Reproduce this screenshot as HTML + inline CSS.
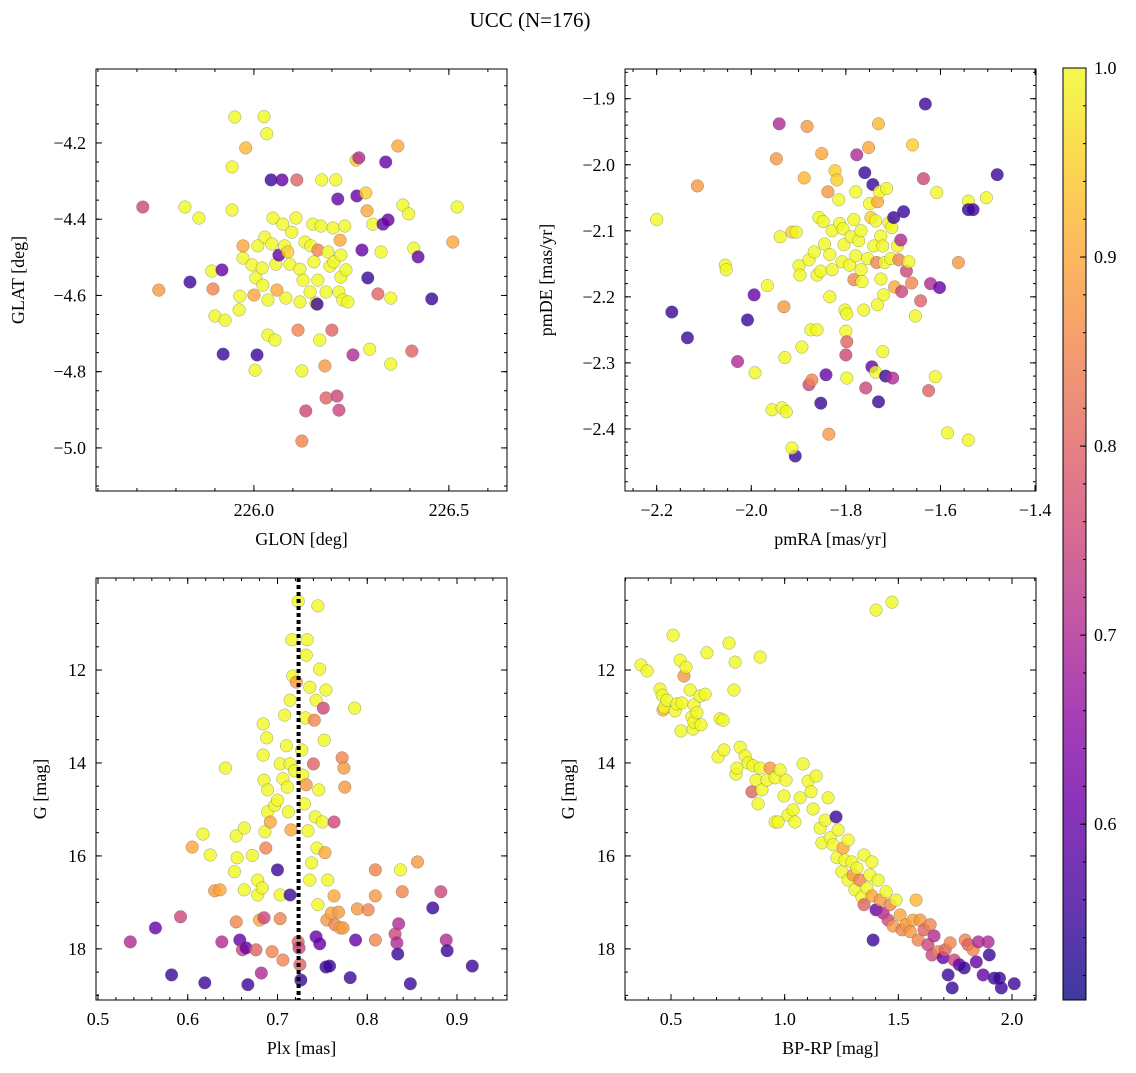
<!DOCTYPE html>
<html><head><meta charset="utf-8">
<style>
html,body{margin:0;padding:0;background:#fff;}
svg text{font-family:"Liberation Serif","DejaVu Serif",serif;fill:#000;}
</style></head>
<body>
<svg id="fig" width="1136" height="1068" viewBox="0 0 1136 1068" xmlns="http://www.w3.org/2000/svg">
<defs>
<linearGradient id="plasma" x1="0" y1="1" x2="0" y2="0">
<stop offset="0" stop-color="#0d0887"/><stop offset="0.1" stop-color="#41049d"/><stop offset="0.2" stop-color="#6a00a8"/><stop offset="0.3" stop-color="#8f0da4"/><stop offset="0.4" stop-color="#b12a90"/><stop offset="0.5" stop-color="#cc4778"/><stop offset="0.6" stop-color="#e16462"/><stop offset="0.7" stop-color="#f2844b"/><stop offset="0.8" stop-color="#fca636"/><stop offset="0.9" stop-color="#fcce25"/><stop offset="1" stop-color="#f0f921"/>
</linearGradient>
</defs>
<text x="530" y="27" font-size="21" text-anchor="middle">UCC (N=176)</text>
</svg>
<script>
// ---- Panel 1: GLON / GLAT ----
const glon=[225.715,225.756,225.823,225.836,225.859,225.892,225.895,225.9,225.918,225.921,225.926,225.944,225.944,225.951,225.979,226.026,226.033,226.008,225.962,225.964,225.972,225.972,225.995,226.0,226.005,226.01,226.021,226.023,226.028,226.036,226.036,226.044,226.046,226.049,226.054,226.056,226.059,226.064,226.072,226.074,226.079,226.082,226.087,226.092,226.097,226.108,226.11,226.113,226.118,226.118,226.123,226.126,226.131,226.133,226.144,226.146,226.151,226.154,226.159,226.162,226.164,226.164,226.169,226.172,226.174,226.182,226.185,226.19,226.195,226.2,226.203,226.205,226.21,226.213,226.215,226.218,226.221,226.223,226.223,226.228,226.233,226.236,226.241,226.254,226.262,226.264,226.269,226.277,226.287,226.29,226.292,226.297,226.305,226.318,226.326,226.331,226.338,226.351,226.344,226.351,226.369,226.382,226.397,226.41,226.421,226.405,226.456,226.51,226.521,226.185,226.218,226.123,226.003];
const glat=[-4.368,-4.586,-4.368,-4.565,-4.397,-4.536,-4.583,-4.654,-4.533,-4.754,-4.665,-4.263,-4.376,-4.132,-4.213,-4.131,-4.176,-4.756,-4.638,-4.602,-4.502,-4.47,-4.52,-4.599,-4.554,-4.47,-4.528,-4.573,-4.447,-4.612,-4.704,-4.297,-4.465,-4.397,-4.717,-4.518,-4.586,-4.494,-4.297,-4.413,-4.47,-4.607,-4.486,-4.518,-4.434,-4.397,-4.297,-4.691,-4.531,-4.617,-4.798,-4.56,-4.46,-4.903,-4.591,-4.47,-4.413,-4.512,-4.62,-4.623,-4.481,-4.56,-4.717,-4.418,-4.297,-4.785,-4.591,-4.486,-4.523,-4.691,-4.423,-4.512,-4.297,-4.864,-4.347,-4.591,-4.455,-4.494,-4.552,-4.612,-4.418,-4.533,-4.617,-4.756,-4.245,-4.339,-4.239,-4.481,-4.331,-4.378,-4.554,-4.741,-4.413,-4.596,-4.486,-4.413,-4.25,-4.607,-4.402,-4.78,-4.208,-4.363,-4.386,-4.476,-4.499,-4.746,-4.609,-4.46,-4.368,-4.869,-4.901,-4.982,-4.796];
const prob1=[.75,.88,1,.55,1,1,.85,1,.6,.55,1,1,1,1,.92,1,1,.55,1,1,1,.9,1,.9,1,1,1,1,1,1,1,.55,1,1,1,1,.9,.6,.6,1,1,1,.95,1,1,1,.8,.85,1,1,1,1,1,.75,1,1,1,1,1,.55,.85,1,1,1,1,.88,1,1,1,.8,1,1,1,.75,.6,1,.9,1,1,1,1,1,1,.7,.95,.6,.7,.6,.95,.9,.55,1,1,.8,1,.6,.6,1,.6,1,.9,1,1,1,.6,.8,.55,.9,1,.8,.75,.85,1];
// ---- Panel 2: pmRA / pmDE ----
const pmra=[-2.2,-2.114,-2.168,-2.135,-2.055,-2.053,-2.029,-1.994,-2.008,-1.992,-1.956,-1.947,-1.941,-1.939,-1.935,-1.931,-1.929,-1.914,-1.907,-1.905,-1.899,-1.897,-1.893,-1.888,-1.882,-1.878,-1.878,-1.874,-1.872,-1.867,-1.861,-1.861,-1.857,-1.853,-1.853,-1.851,-1.848,-1.845,-1.842,-1.838,-1.836,-1.834,-1.834,-1.829,-1.829,-1.823,-1.819,-1.815,-1.813,-1.808,-1.806,-1.804,-1.802,-1.8,-1.8,-1.798,-1.798,-1.798,-1.792,-1.789,-1.783,-1.783,-1.779,-1.779,-1.777,-1.773,-1.768,-1.768,-1.766,-1.762,-1.76,-1.758,-1.754,-1.752,-1.75,-1.747,-1.745,-1.743,-1.741,-1.737,-1.737,-1.735,-1.733,-1.733,-1.731,-1.731,-1.729,-1.726,-1.726,-1.722,-1.722,-1.72,-1.718,-1.716,-1.714,-1.709,-1.705,-1.703,-1.701,-1.699,-1.697,-1.691,-1.688,-1.684,-1.682,-1.678,-1.672,-1.667,-1.661,-1.659,-1.653,-1.642,-1.636,-1.632,-1.625,-1.621,-1.611,-1.608,-1.602,-1.585,-1.562,-1.541,-1.541,-1.541,-1.531,-1.503,-1.48,-1.966,-1.926,-1.914];
const pmde=[-2.083,-2.032,-2.223,-2.262,-2.152,-2.159,-2.298,-2.197,-2.235,-2.315,-2.371,-1.991,-1.938,-2.109,-2.368,-2.215,-2.292,-2.102,-2.441,-2.102,-2.153,-2.167,-2.276,-2.02,-1.942,-2.144,-2.333,-2.25,-2.326,-2.132,-2.25,-2.167,-2.08,-2.361,-2.161,-1.983,-2.086,-2.12,-2.318,-2.041,-2.408,-2.136,-2.2,-2.1,-2.159,-2.009,-2.023,-2.053,-2.089,-2.147,-2.097,-2.121,-2.22,-2.252,-2.288,-2.323,-2.226,-2.268,-2.152,-2.109,-2.174,-2.083,-2.041,-2.138,-1.985,-2.115,-2.1,-2.159,-2.177,-2.22,-2.012,-2.338,-2.142,-1.974,-2.059,-2.08,-2.306,-2.03,-2.123,-2.085,-2.314,-2.148,-2.056,-2.212,-2.359,-1.938,-2.041,-2.108,-2.173,-2.123,-2.283,-2.197,-2.148,-2.32,-2.036,-2.088,-2.142,-2.095,-2.323,-2.08,-2.185,-2.123,-2.144,-2.114,-2.192,-2.071,-2.161,-2.147,-2.179,-1.97,-2.229,-2.206,-2.021,-1.908,-2.342,-2.18,-2.321,-2.042,-2.186,-2.406,-2.148,-2.417,-2.055,-2.068,-2.068,-2.05,-2.015,-2.183,-2.374,-2.429];
const prob2=[1,.88,.55,.55,1,1,.7,.6,.55,1,1,.88,.7,1,1,.88,1,.95,.55,1,1,1,1,.92,.88,1,.75,1,.85,1,1,1,1,.55,1,.9,1,1,.6,.88,.88,1,1,1,1,.95,.95,1,1,1,1,1,1,1,.75,1,1,.8,1,1,.85,1,1,1,.7,1,1,1,1,1,.55,.75,1,.9,1,.95,.6,.55,1,1,1,.85,.9,1,.55,.92,1,1,1,1,1,1,1,.55,1,1,1,1,.7,.55,.9,1,.85,.7,.75,.55,.75,1,.85,.95,1,.8,.75,.55,.8,.7,1,1,.6,1,.88,1,1,.55,.55,1,.55,1,1,1];
// ---- Panel 3: Plx / G ----
const plx=[0.536,0.564,0.582,0.592,0.605,0.617,0.619,0.625,0.63,0.636,0.638,0.642,0.652,0.654,0.655,0.654,0.658,0.661,0.663,0.663,0.665,0.667,0.672,0.676,0.678,0.678,0.68,0.682,0.683,0.685,0.684,0.684,0.685,0.686,0.688,0.687,0.689,0.689,0.692,0.694,0.697,0.7,0.7,0.703,0.703,0.703,0.706,0.706,0.708,0.71,0.711,0.712,0.714,0.714,0.714,0.715,0.716,0.717,0.719,0.721,0.723,0.745,0.723,0.724,0.725,0.726,0.727,0.728,0.73,0.731,0.732,0.732,0.733,0.734,0.736,0.736,0.738,0.74,0.741,0.742,0.743,0.743,0.744,0.745,0.746,0.747,0.747,0.75,0.751,0.752,0.753,0.754,0.754,0.755,0.756,0.758,0.76,0.763,0.763,0.764,0.768,0.77,0.772,0.773,0.775,0.781,0.786,0.787,0.789,0.774,0.801,0.809,0.809,0.809,0.831,0.833,0.834,0.835,0.837,0.839,0.848,0.856,0.873,0.882,0.888,0.889,0.917];
const gmag3=[17.85,17.55,18.56,17.31,15.81,15.53,18.73,15.98,16.75,16.73,17.85,14.11,16.34,15.57,16.04,17.42,17.81,18.02,15.4,16.73,17.98,18.77,15.99,18.02,16.52,16.84,17.38,18.52,16.69,17.33,13.16,13.83,14.37,15.48,13.46,15.83,14.58,15.05,15.27,18.06,14.91,14.8,16.3,14.02,16.84,17.35,14.34,18.24,12.97,13.63,14.52,15.05,12.65,14.02,16.84,15.44,11.35,12.13,14.17,12.26,10.52,10.62,17.85,17.98,18.34,18.67,13.72,14.26,14.88,13.03,14.47,11.68,11.35,15.46,16.52,12.37,16.15,14.02,13.08,15.16,12.65,17.74,15.83,17.05,14.58,11.98,17.89,15.27,12.82,13.51,15.93,12.43,18.39,17.38,16.52,18.37,17.23,15.27,16.86,17.48,17.21,17.55,13.89,17.55,14.52,18.62,12.82,17.81,17.14,14.11,17.16,16.86,17.81,16.3,17.68,17.87,18.11,17.46,16.3,16.77,18.75,16.13,17.12,16.77,17.81,18.04,18.37];
const prob3=[.7,.6,.55,.75,.9,1,.55,1,.88,.9,.7,1,1,1,1,.85,.6,.75,1,1,.6,.55,1,.8,1,1,.9,.7,1,.75,1,1,1,1,1,.85,1,1,.9,.85,1,1,.55,1,1,.85,1,.85,1,1,1,1,1,1,.55,.9,1,1,1,.88,1,1,.8,.75,.8,.55,1,1,1,1,.88,1,1,1,1,1,1,.8,.85,1,1,.6,1,1,1,1,.6,1,.75,1,.9,1,.55,.88,1,.55,.9,.75,.9,.85,.88,.9,.85,.88,.88,.55,1,.6,.88,.88,.85,.88,.85,.85,.75,.7,.55,.7,1,.85,.55,.88,.55,.75,.7,.55,.55];
const plxMean=[0.7235];
// ---- Panel 4: BP-RP / G ----
const bprp=[0.368,0.395,0.452,0.465,0.461,0.47,0.482,0.509,0.518,0.526,0.54,0.548,0.544,0.557,0.566,0.584,0.592,0.597,0.601,0.601,0.614,0.628,0.632,0.658,0.65,0.716,0.729,0.707,0.733,0.755,0.777,0.782,0.786,0.79,0.804,0.826,0.839,0.856,0.861,0.874,0.883,0.892,0.892,0.9,0.922,0.936,0.958,0.958,0.971,0.98,0.997,1.006,1.015,1.037,1.045,1.068,1.081,1.103,1.116,1.125,1.138,1.156,1.164,1.178,1.191,1.2,1.213,1.226,1.23,1.235,1.252,1.257,1.265,1.279,1.279,1.296,1.301,1.309,1.318,1.331,1.34,1.349,1.349,1.362,1.375,1.384,1.389,1.384,1.402,1.472,1.402,1.411,1.42,1.433,1.446,1.455,1.464,1.477,1.49,1.508,1.516,1.534,1.552,1.565,1.578,1.587,1.596,1.613,1.63,1.64,1.648,1.657,1.675,1.697,1.706,1.719,1.728,1.737,1.746,1.768,1.79,1.794,1.807,1.829,1.843,1.852,1.873,1.895,1.9,1.922,1.945,1.953,2.01];
const gmag4=[11.89,12.02,12.41,12.86,12.54,12.8,12.65,11.25,12.88,12.73,11.79,12.71,13.31,12.13,11.94,12.43,13.01,13.27,12.75,13.12,12.92,12.56,13.18,11.63,12.52,13.05,13.08,13.87,13.72,11.42,12.43,11.83,14.24,14.11,13.66,13.85,14.0,14.62,14.06,14.37,14.88,14.11,11.72,14.58,14.37,14.11,15.27,14.32,15.27,14.15,14.71,14.37,15.12,15.01,15.27,14.75,14.02,14.39,14.62,14.99,14.28,15.4,15.72,15.23,14.75,15.61,15.76,15.16,16.04,15.44,16.34,15.83,16.09,16.52,15.66,16.13,16.41,16.73,16.26,16.52,16.88,15.98,17.05,16.69,16.41,16.86,17.81,16.13,10.71,10.54,17.16,16.52,16.95,17.23,16.77,17.38,17.05,17.51,16.95,17.27,17.59,17.48,17.63,17.38,16.95,17.81,17.38,17.59,17.91,17.48,18.13,17.72,18.06,18.19,18.02,18.56,17.87,18.84,18.24,18.34,18.41,17.81,17.91,18.02,18.28,17.85,18.56,17.85,18.13,18.63,18.63,18.84,18.75];
const prob4=[1,1,1,.92,1,1,1,1,1,1,1,1,1,.88,1,1,1,1,1,1,1,1,1,1,1,1,1,1,1,1,1,1,1,1,1,1,1,.8,1,1,1,1,1,1,1,.88,1,1,1,1,1,1,1,1,1,1,1,1,1,1,1,1,1,1,1,1,1,.55,1,1,1,.9,1,1,1,1,.88,1,1,.85,1,1,.8,1,1,.9,.55,1,1,1,.6,1,.88,.7,1,.75,.85,.88,1,.9,.85,.88,.88,.9,.92,.85,.88,.8,.75,.85,.75,.7,.85,.6,.8,.55,.85,.55,.75,.6,.55,.85,.8,.85,.6,.7,.6,.7,.55,.55,.55,.55,.55];
// ---- Colorbar ----
const cbTicks=[0.6,0.7,0.8,0.9,1.0];
const cbMin=[0.507], cbMax=[1.0];

const NS='http://www.w3.org/2000/svg';
const svg=document.getElementById('fig');
function mk(tag,attrs,parent){const e=document.createElementNS(NS,tag);for(const k in attrs)e.setAttribute(k,attrs[k]);(parent||svg).appendChild(e);return e;}
const stops=[[0,'#0d0887'],[.1,'#41049d'],[.2,'#6a00a8'],[.3,'#8f0da4'],[.4,'#b12a90'],[.5,'#cc4778'],[.6,'#e16462'],[.7,'#f2844b'],[.8,'#fca636'],[.9,'#fcce25'],[1,'#f0f921']];
function hex(h){return [1,3,5].map(i=>parseInt(h.substr(i,2),16));}
function plasma(t){t=Math.max(0,Math.min(1,t));for(let i=1;i<stops.length;i++){if(t<=stops[i][0]){const a=stops[i-1],b=stops[i];const f=(t-a[0])/(b[0]-a[0]);const ca=hex(a[1]),cb=hex(b[1]);return 'rgb('+ca.map((v,j)=>Math.round(v+(cb[j]-v)*f)).join(',')+')';}}return stops[10][1];}
function fmt(v,d){const s=v.toFixed(d);return s.startsWith('-')?'\u2212'+s.slice(1):s;}

function panel(o){
  const g=mk('g',{});
  
  
  const X=v=>o.x0+(v-o.xmin)/(o.xmax-o.xmin)*(o.x1-o.x0);
  const Y=o.yinv?v=>o.y0+(v-o.ymin)/(o.ymax-o.ymin)*(o.y1-o.y0):v=>o.y1-(v-o.ymin)/(o.ymax-o.ymin)*(o.y1-o.y0);
  const clip='c'+o.name;
  const cp=mk('clipPath',{id:clip},g);mk('rect',{x:o.x0,y:o.y0,width:o.x1-o.x0,height:o.y1-o.y0},cp);
  const pts=mk('g',{'clip-path':'url(#'+clip+')'},g);
  for(let i=0;i<o.xs.length;i++){
    const c=mk('circle',{cx:X(o.xs[i]),cy:Y(o.ys[i]),r:6.3,fill:plasma((o.ps[i]-cbMin[0])/(cbMax[0]-cbMin[0])),'fill-opacity':0.8,stroke:'#555','stroke-width':0.4,'stroke-opacity':0.7},pts);
    
    
  }
  if(o.vline){const l=mk('line',{x1:X(o.vline),x2:X(o.vline),y1:o.y0,y2:o.y1,stroke:'#000','stroke-width':4,'stroke-dasharray':'4 3'},pts);
    
    }
  const fr=mk('rect',{x:o.x0,y:o.y0,width:o.x1-o.x0,height:o.y1-o.y0,fill:'none',stroke:'#000','stroke-width':1},g);
  
  
  const eps=1e-6;
  const first=(a,s)=>Math.ceil((a-eps)/s)*s;
  const xa=Math.min(o.xmin,o.xmax),xb=Math.max(o.xmin,o.xmax),ya=Math.min(o.ymin,o.ymax),yb=Math.max(o.ymin,o.ymax);
  for(let v=first(xa,o.xmn);v<=xb+eps;v+=o.xmn){const px=X(v);mk('line',{x1:px,x2:px,y1:o.y1,y2:o.y1-3,stroke:'#000'},g);mk('line',{x1:px,x2:px,y1:o.y0,y2:o.y0+3,stroke:'#000'},g);}
  for(let v=first(ya,o.ymn);v<=yb+eps;v+=o.ymn){const py=Y(v);mk('line',{x1:o.x0,x2:o.x0+3,y1:py,y2:py,stroke:'#000'},g);mk('line',{x1:o.x1,x2:o.x1-3,y1:py,y2:py,stroke:'#000'},g);}
  for(let v=first(xa,o.xmj);v<=xb+eps;v+=o.xmj){const px=X(v);mk('line',{x1:px,x2:px,y1:o.y1,y2:o.y1-6,stroke:'#000'},g);mk('line',{x1:px,x2:px,y1:o.y0,y2:o.y0+6,stroke:'#000'},g);
    const t=mk('text',{x:px,y:o.y1+25,'font-size':18,'text-anchor':'middle'},g);t.textContent=fmt(v,o.xd);
    
    }
  for(let v=first(ya,o.ymj);v<=yb+eps;v+=o.ymj){const py=Y(v);mk('line',{x1:o.x0,x2:o.x0+6,y1:py,y2:py,stroke:'#000'},g);mk('line',{x1:o.x1,x2:o.x1-6,y1:py,y2:py,stroke:'#000'},g);
    const t=mk('text',{x:o.x0-10,y:py+6,'font-size':18,'text-anchor':'end'},g);t.textContent=fmt(v,o.yd);
    
    }
  const xl=mk('text',{x:(o.x0+o.x1)/2,y:o.y1+54,'font-size':18,'text-anchor':'middle'},g);xl.textContent=o.xlab;
  
  
  const yl=mk('text',{x:0,y:0,'font-size':18,'text-anchor':'middle',transform:'translate('+o.ylx+','+(o.y0+o.y1)/2+') rotate(-90)'},g);yl.textContent=o.ylab;
  
  
}
panel({name:'glon-glat-panel',x0:96,x1:507,y0:69,y1:491,xmin:225.595,xmax:226.649,ymin:-5.113,ymax:-4.006,xs:glon,ys:glat,ps:prob1,xmj:0.5,xmn:0.1,ymj:0.2,ymn:0.05,xd:1,yd:1,xlab:'GLON [deg]',ylab:'GLAT [deg]',ylx:24});
panel({name:'proper-motion-panel',x0:625,x1:1036,y0:69,y1:491,xmin:-2.267,xmax:-1.398,ymin:-2.494,ymax:-1.855,xs:pmra,ys:pmde,ps:prob2,xmj:0.2,xmn:0.05,ymj:0.1,ymn:0.02,xd:1,yd:1,xlab:'pmRA [mas/yr]',ylab:'pmDE [mas/yr]',ylx:552});
panel({name:'parallax-panel',x0:96,x1:507,y0:578,y1:1000,xmin:0.4978,xmax:0.9557,ymin:10.02,ymax:19.1,yinv:true,xs:plx,ys:gmag3,ps:prob3,xmj:0.1,xmn:0.02,ymj:2,ymn:0.5,xd:1,yd:0,xlab:'Plx [mas]',ylab:'G [mag]',ylx:46,vline:plxMean[0]});
panel({name:'cmd-panel',x0:625,x1:1036,y0:578,y1:1000,xmin:0.2976,xmax:2.1056,ymin:10.02,ymax:19.1,yinv:true,xs:bprp,ys:gmag4,ps:prob4,xmj:0.5,xmn:0.1,ymj:2,ymn:0.5,xd:1,yd:0,xlab:'BP-RP [mag]',ylab:'G [mag]',ylx:574});

const cb=mk('g',{});


const cbx0=1063,cbx1=1086,cby0=68,cby1=1000;
mk('rect',{x:cbx0,y:cby0,width:cbx1-cbx0,height:cby1-cby0,fill:'url(#plasma)','fill-opacity':0.8},cb);
mk('rect',{x:cbx0,y:cby0,width:cbx1-cbx0,height:cby1-cby0,fill:'none',stroke:'#000'},cb);
const CY=v=>cby1-(v-cbMin[0])/(cbMax[0]-cbMin[0])*(cby1-cby0);
for(let v=0.52;v<=1.0001;v+=0.02){mk('line',{x1:cbx1,x2:cbx1-3,y1:CY(v),y2:CY(v),stroke:'#000'},cb);}
cbTicks.forEach(v=>{const y=CY(v);mk('line',{x1:cbx1,x2:cbx1-6,y1:y,y2:y,stroke:'#000'},cb);
  const t=mk('text',{x:cbx1+8,y:y+6,'font-size':18},cb);t.textContent=v.toFixed(1);
  
  });
</script>
</body></html>
